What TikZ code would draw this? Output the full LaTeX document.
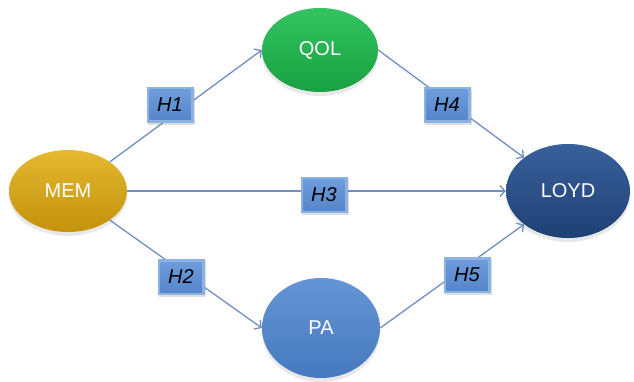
\documentclass[tikz,border=0pt]{standalone}
\usepackage{fontspec}
\setmainfont{Liberation Sans}
\usetikzlibrary{shapes.geometric,arrows.meta,shadows,calc}
\definecolor{memtop}{RGB}{228,184,48}
\definecolor{membot}{RGB}{196,146,12}
\definecolor{qoltop}{RGB}{52,196,96}
\definecolor{qolbot}{RGB}{24,160,66}
\definecolor{loydtop}{RGB}{56,96,156}
\definecolor{loydbot}{RGB}{32,64,116}
\definecolor{patop}{RGB}{100,150,214}
\definecolor{pabot}{RGB}{70,120,190}
\definecolor{boxout}{RGB}{140,178,228}
\definecolor{boxintop}{RGB}{112,158,222}
\definecolor{boxinbot}{RGB}{84,132,200}
\definecolor{linkcol}{RGB}{112,142,196}
\tikzset{
  blob/.style={ellipse, inner sep=0pt, text=white,
    font=\fontsize{20}{24}\selectfont,
    drop shadow={opacity=0.18, shadow xshift=0pt, shadow yshift=-4pt}},
  hbox/.style={rectangle, minimum width=47pt, minimum height=36pt, inner sep=0pt,
    fill=boxout, font=\fontsize{20}{24}\selectfont\itshape, text=black,
    drop shadow={opacity=0.25, shadow xshift=1.5pt, shadow yshift=-2pt},
    path picture={\shade[top color=boxintop, bottom color=boxinbot] ($(path picture bounding box.south west)+(3pt,3pt)$) rectangle ($(path picture bounding box.north east)-(3pt,3pt)$);}},
  link/.style={draw=linkcol, line width=1.3pt, -{Straight Barb[length=5pt,width=11pt]}}
}
\begin{document}
\begin{tikzpicture}[x=1pt,y=-1pt]
\useasboundingbox (0,0) rectangle (634,382);
\node[blob, minimum width=118pt, minimum height=82pt, top color=memtop, bottom color=membot] (mem) at (68,191) {MEM};
\node[blob, minimum width=116pt, minimum height=84pt, top color=qoltop, bottom color=qolbot] (qol) at (320,50) {QOL};
\node[blob, minimum width=124pt, minimum height=94pt, top color=loydtop, bottom color=loydbot] (loyd) at (568,191) {LOYD};
\node[blob, minimum width=118pt, minimum height=100pt, top color=patop, bottom color=pabot] (pa) at (321,328) {PA};
\draw[link] (mem.north east) -- (qol.west);
\draw[link] (qol.east) -- (loyd.north west);
\draw[link] (mem.east) -- (loyd.west);
\draw[link] (mem.south east) -- (pa.west);
\draw[link] (pa.east) -- (loyd.south west);
\node[hbox] (h1) at (170,105) {H1};
\node[hbox] (h4) at (447,105) {H4};
\node[hbox] (h3) at (324,195) {H3};
\node[hbox] (h2) at (181,277) {H2};
\node[hbox] (h5) at (467,275) {H5};
\end{tikzpicture}
\end{document}
